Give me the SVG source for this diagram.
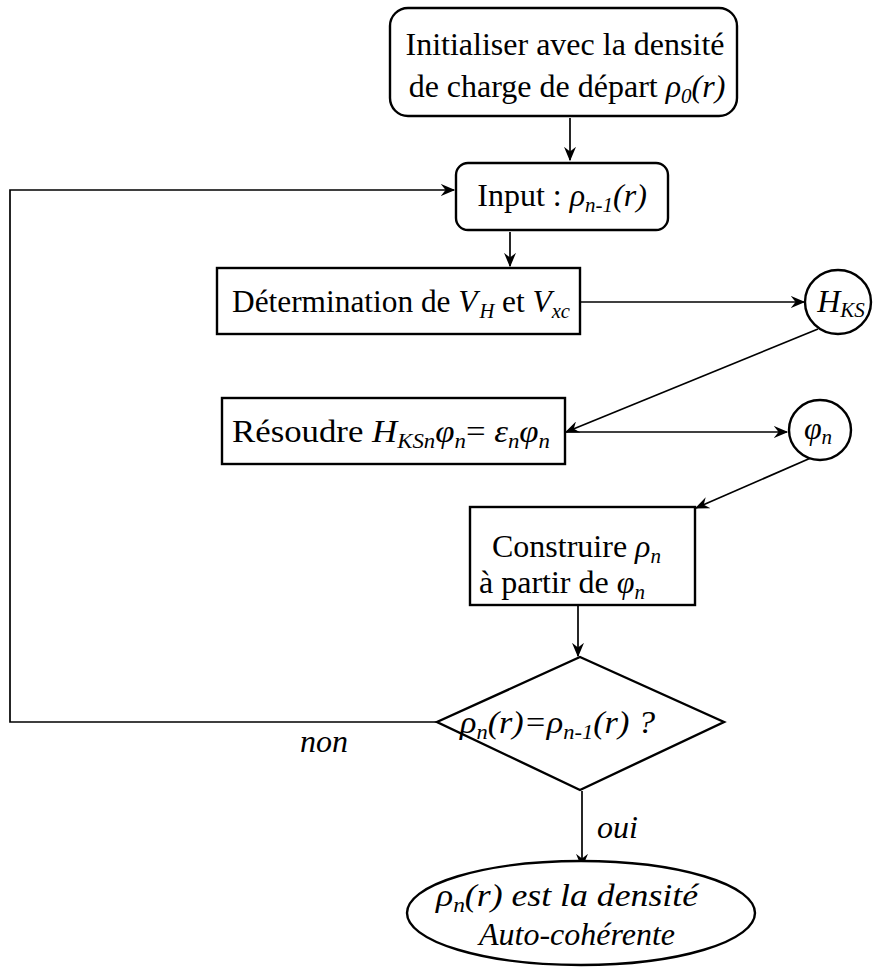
<svg xmlns="http://www.w3.org/2000/svg" width="879" height="973" viewBox="0 0 879 973">
<defs>
<marker id="ah" viewBox="0 0 12 10" refX="11" refY="5" markerWidth="15" markerHeight="12" markerUnits="userSpaceOnUse" orient="auto">
<path d="M0,0 L12,5 L0,10 L4,5 Z" fill="#000"/>
</marker>
<style>
.n{fill:#fff;stroke:#000;stroke-width:2.4}
.c{fill:none;stroke:#000;stroke-width:1.7}
.t{font-family:"Liberation Serif","Times New Roman",serif;font-size:32px;fill:#000}
.i{font-style:italic}
.s{font-size:21px;font-style:italic}
</style>
</defs>
<rect width="879" height="973" fill="#fff"/>
<g id="connectors">
<line class="c" x1="570" y1="118" x2="570" y2="160" marker-end="url(#ah)"/>
<line class="c" x1="510" y1="232" x2="510" y2="266" marker-end="url(#ah)"/>
<line class="c" x1="581" y1="302" x2="804" y2="302" marker-end="url(#ah)"/>
<line class="c" x1="818" y1="329" x2="566" y2="432" marker-end="url(#ah)"/>
<line class="c" x1="566" y1="432" x2="787" y2="432" marker-end="url(#ah)"/>
<line class="c" x1="813" y1="457" x2="696" y2="508" marker-end="url(#ah)"/>
<line class="c" x1="578" y1="606" x2="578" y2="656" marker-end="url(#ah)"/>
<polyline class="c" points="437,722 10,722 10,190 454,190" marker-end="url(#ah)"/>
<line class="c" x1="582" y1="791" x2="582" y2="867" marker-end="url(#ah)"/>
<text class="t i" x="300" y="752">non</text>
<text class="t i" x="597" y="838">oui</text>
</g>
<g id="init">
<rect class="n" x="390" y="8" width="347" height="108" rx="18"/>
<text class="t" x="565" y="55" text-anchor="middle">Initialiser avec la densité</text>
<text class="t" x="567" y="97" text-anchor="middle">de charge de départ <tspan class="i">ρ</tspan><tspan class="s" dy="6">0</tspan><tspan class="i" dy="-6">(r)</tspan></text>
</g>
<g id="input">
<rect class="n" x="456" y="163" width="212" height="67" rx="12"/>
<text class="t" x="562" y="206" text-anchor="middle">Input : <tspan class="i">ρ</tspan><tspan class="s" dy="6">n-1</tspan><tspan class="i" dy="-6">(r)</tspan></text>
</g>
<g id="determination">
<rect class="n" x="217" y="268" width="363" height="66"/>
<text class="t" x="232" y="312" textLength="338" lengthAdjust="spacingAndGlyphs">Détermination de <tspan class="i">V</tspan><tspan class="s" dx="2" dy="6">H</tspan><tspan dy="-6"> et </tspan><tspan class="i">V</tspan><tspan class="s" dy="6">xc</tspan></text>
</g>
<g id="hks">
<ellipse class="n" cx="838" cy="302" rx="33" ry="32"/>
<text class="t" x="841" y="312" text-anchor="middle"><tspan class="i">H</tspan><tspan class="s" dy="5">KS</tspan></text>
</g>
<g id="resoudre">
<rect class="n" x="222" y="398" width="343" height="66"/>
<text class="t" x="232" y="442" textLength="318" lengthAdjust="spacingAndGlyphs">Résoudre <tspan class="i">H</tspan><tspan class="s" dy="6">KSn</tspan><tspan class="i" dy="-6">φ</tspan><tspan class="s" dy="6">n</tspan><tspan dy="-6">= </tspan><tspan class="i">ε</tspan><tspan class="s" dy="6">n</tspan><tspan class="i" dy="-6">φ</tspan><tspan class="s" dy="6">n</tspan></text>
</g>
<g id="phi">
<ellipse class="n" cx="820" cy="430" rx="31" ry="30"/>
<text class="t" x="818" y="439" text-anchor="middle"><tspan class="i">φ</tspan><tspan class="s" dy="5">n</tspan></text>
</g>
<g id="construire">
<rect class="n" x="470" y="507" width="225" height="98"/>
<text class="t" x="492" y="557">Construire <tspan class="i">ρ</tspan><tspan class="s" dy="6">n</tspan></text>
<text class="t" x="479" y="593">à partir de <tspan class="i">φ</tspan><tspan class="s" dy="6">n</tspan></text>
</g>
<g id="decision">
<polygon class="n" points="580,657 724,722 580,790 437,722"/>
<text class="t i" x="460" y="733" textLength="195" lengthAdjust="spacingAndGlyphs">ρ<tspan class="s" dy="6">n</tspan><tspan dy="-6">(r)=ρ</tspan><tspan class="s" dy="6">n-1</tspan><tspan dy="-6">(r) ?</tspan></text>
</g>
<g id="result">
<ellipse class="n" cx="581" cy="913" rx="174" ry="52"/>
<text class="t i" x="436" y="906" textLength="262" lengthAdjust="spacingAndGlyphs">ρ<tspan class="s" dy="6">n</tspan><tspan dy="-6">(r) est la densité</tspan></text>
<text class="t i" x="479" y="945">Auto-cohérente</text>
</g>
</svg>
